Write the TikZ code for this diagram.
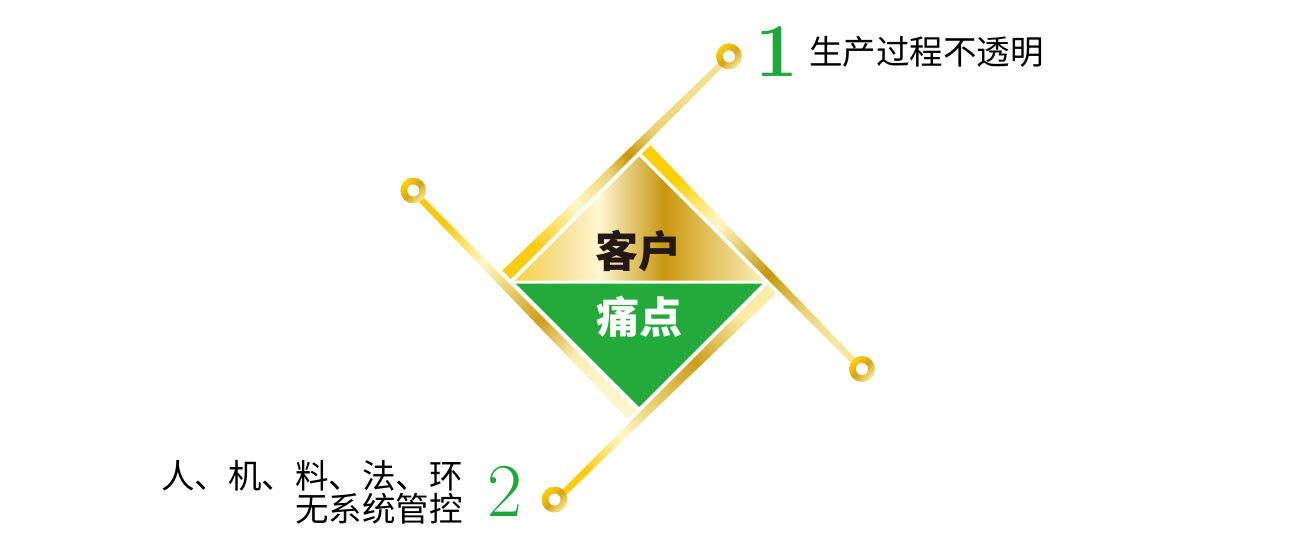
\documentclass[tikz,border=0pt]{standalone}
\usepackage{fontspec}
\newfontfamily\cjk{Noto Sans CJK SC}
\definecolor{numgreen}{RGB}{30,168,60}
\definecolor{fillgreen}{RGB}{36,170,58}
\definecolor{textdark}{RGB}{35,24,21}
\pgfdeclarehorizontalshading{bandA}{100bp}{rgb(0bp)=(0.98,0.80,0.08); rgb(25bp)=(0.98,0.80,0.08); rgb(37.5bp)=(1,0.97,0.78); rgb(47.5bp)=(0.93,0.84,0.47); rgb(53.5bp)=(0.78,0.59,0.04); rgb(61bp)=(0.92,0.82,0.45); rgb(75bp)=(0.95,0.88,0.57); rgb(100bp)=(0.95,0.88,0.57)}
\pgfdeclarehorizontalshading{bandB}{100bp}{rgb(0bp)=(1,0.81,0); rgb(25bp)=(1,0.81,0); rgb(39bp)=(1,0.97,0.78); rgb(55bp)=(0.78,0.59,0.04); rgb(66.5bp)=(0.92,0.82,0.45); rgb(75bp)=(0.96,0.90,0.63); rgb(100bp)=(0.96,0.90,0.63)}
\pgfdeclarehorizontalshading{bandC}{100bp}{rgb(0bp)=(1,0.96,0.80); rgb(25bp)=(1,0.96,0.80); rgb(34bp)=(0.99,0.93,0.70); rgb(45bp)=(0.80,0.62,0.12); rgb(55bp)=(0.92,0.82,0.45); rgb(63bp)=(1,0.97,0.78); rgb(75bp)=(0.97,0.78,0.05); rgb(100bp)=(0.97,0.78,0.05)}
\pgfdeclarehorizontalshading{bandD}{100bp}{rgb(0bp)=(0.98,0.92,0.65); rgb(25bp)=(0.98,0.92,0.65); rgb(40bp)=(0.80,0.62,0.10); rgb(54bp)=(0.92,0.82,0.45); rgb(63.5bp)=(1,0.97,0.80); rgb(75bp)=(0.98,0.80,0.05); rgb(100bp)=(0.98,0.80,0.05)}
\pgfdeclarehorizontalshading{goldtri}{100bp}{rgb(0bp)=(0.97,0.82,0.27); rgb(25bp)=(0.97,0.82,0.27); rgb(34bp)=(0.96,0.88,0.58); rgb(42bp)=(1,0.97,0.82); rgb(55bp)=(0.78,0.59,0.05); rgb(63bp)=(0.88,0.74,0.33); rgb(75bp)=(0.98,0.93,0.72); rgb(100bp)=(0.98,0.93,0.72)}
\pgfdeclarehorizontalshading{ringsh}{100bp}{rgb(0bp)=(1,0.82,0.05); rgb(25bp)=(1,0.82,0.05); rgb(50bp)=(0.84,0.64,0.08); rgb(75bp)=(0.98,0.92,0.62); rgb(100bp)=(0.98,0.92,0.62)}
\tikzset{
  cjktext/.style={inner sep=0pt, font=\cjk\fontsize{33.5}{40}\selectfont, text=black},
  bigtext/.style={inner sep=0pt, font=\cjk\bfseries\fontsize{43}{50}\selectfont},
  numtext/.style={inner sep=0pt, font=\fontsize{76}{80}\selectfont, text=numgreen},
  ringouter/.style={shading=ringsh, shading angle=-45},
  ringhole/.style={fill=white}
}
\begin{document}
\begin{tikzpicture}[x=1pt,y=-1pt]
\fill[white] (0,0) rectangle (1300,555);
\useasboundingbox (0,0) rectangle (1300,555);
% band coordinates
\coordinate (A1) at (510.67,279.17);
\coordinate (A2) at (502.19,270.69);
\coordinate (A3) at (727.05,54.31);
\coordinate (A4) at (731.29,58.55);
\coordinate (Ac) at (729.0,56.4);
\coordinate (B1) at (641.83,153.67);
\coordinate (B2) at (650.31,145.19);
\coordinate (B3) at (863.86,367.22);
\coordinate (B4) at (859.62,371.46);
\coordinate (Bc) at (862.0,369.0);
\coordinate (C1) at (636.17,410.33);
\coordinate (C2) at (627.69,418.81);
\coordinate (C3) at (410.6,193.24);
\coordinate (C4) at (414.84,189.0);
\coordinate (Cc) at (413.3,190.5);
\coordinate (D1) at (767.33,284.83);
\coordinate (D2) at (775.81,293.31);
\coordinate (D3) at (557.32,503.32);
\coordinate (D4) at (553.08,499.08);
\coordinate (Dc) at (554.5,499.5);
% bands
\shade[shading=bandA, shading angle=45] (A1) -- (A2) -- (A3) -- (A4) -- cycle;
\shade[shading=bandB, shading angle=-45] (B1) -- (B2) -- (B3) -- (B4) -- cycle;
\shade[shading=bandC, shading angle=135] (C1) -- (C2) -- (C3) -- (C4) -- cycle;
\shade[shading=bandD, shading angle=225] (D1) -- (D2) -- (D3) -- (D4) -- cycle;
% rings
\foreach \c in {Ac,Bc,Cc,Dc}{
  \shade[ringouter] (\c) circle[radius=13pt];
  \fill[ringhole] (\c) circle[radius=6pt];
}
% diamond fill
\shade[shading=goldtri] (639,156.5) -- (515,280.5) -- (763,280.5) -- cycle;
\fill[fillgreen] (515.5,283.5) -- (762.5,283.5) -- (639,407) -- cycle;
% texts
\node[bigtext, text=textdark] (kehu) at (638,251) {客户};
\node[bigtext, text=white] (tongdian) at (639,317) {痛点};
\node[numtext, font=\bfseries\fontsize{76}{80}\selectfont] (num1) at (777,52) {1};
\node[numtext] (num2) at (505,491) {2};
\node[cjktext, anchor=west] (t1) at (809,52) {生产过程不透明};
\node[cjktext, anchor=east] (t2a) at (463,476) {人、机、料、法、环};
\node[cjktext, anchor=east] (t2b) at (463,509) {无系统管控};
\end{tikzpicture}
\end{document}
